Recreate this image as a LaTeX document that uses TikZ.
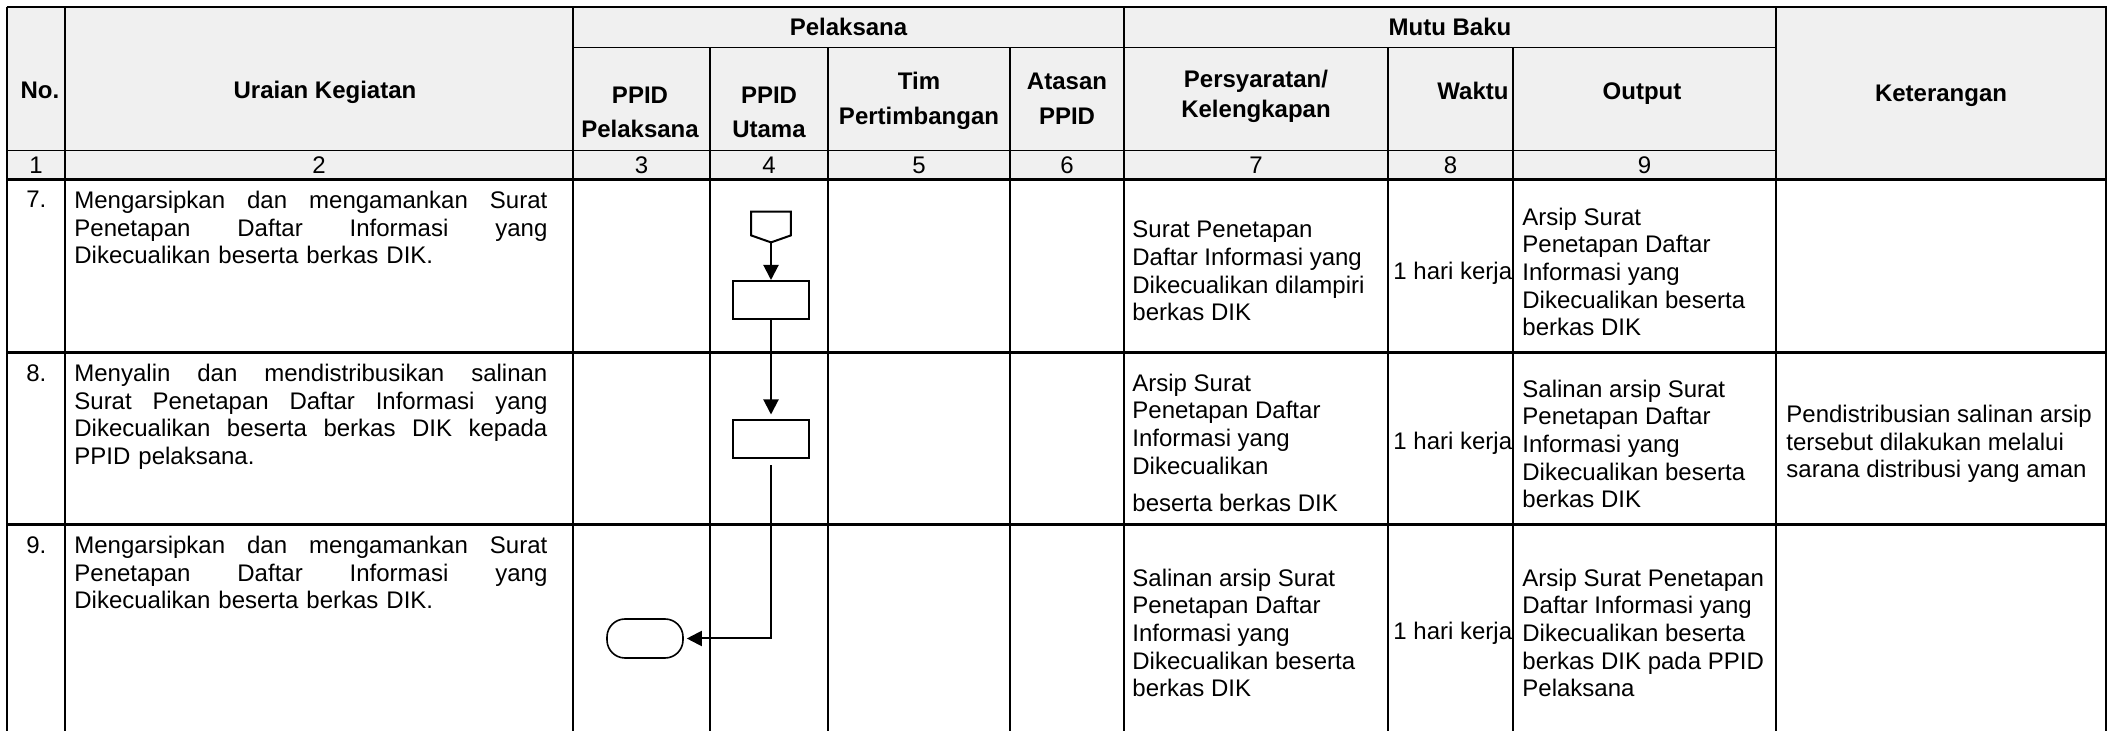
\documentclass[tikz,border=0pt]{standalone}
\usepackage{fontspec}
\setmainfont{Liberation Sans}
\usetikzlibrary{arrows.meta}
\setlength{\parindent}{0pt}
\definecolor{headgray}{RGB}{240,240,240}
\newcommand{\cellfont}{\fontsize{12}{13.8}\selectfont}

\begin{document}
\begin{tikzpicture}[
  x=0.5pt, y=-0.5pt,
  every node/.style={inner sep=0pt, font=\cellfont},
  head/.style={anchor=base, font=\cellfont\bfseries},
  num/.style={anchor=base},
  uraian/.style={anchor=north west, text width=236.5pt, align=left},
  cell/.style={anchor=west, align=left},
  vline/.style={line width=1pt},
  hthin/.style={line width=0.5pt},
  hrow/.style={line width=1.5pt},
  proc/.style={draw, line width=1pt, minimum width=38pt, minimum height=19pt},
  term/.style={draw, line width=0.8pt, rounded corners=9pt, minimum width=38pt, minimum height=19.5pt},
  flow/.style={line width=1pt, -{Triangle[length=7.5pt,width=7.5pt]}},
  ]
  \useasboundingbox (0,0) rectangle (2116,731);
  % header background and grid
  \fill[headgray] (7,7) rectangle (2106,180);
  \foreach \x in {7,65,573,1124,1776,2106}
    \draw[vline] (\x,7) -- (\x,731);
  \foreach \x in {710,828,1010,1388,1513}
    \draw[vline] (\x,48) -- (\x,731);
  \draw[vline] (6.5,7) -- (2106.5,7);
  \draw[hthin] (573,48) -- (1776,48);
  \draw[hthin] (7,151) -- (1776,151);
  \foreach \y in {180,353,525}
    \draw[hrow] (6.5,\y) -- (2106.5,\y);

  % column heads
  \node[head] (hNo) at (40,99) {No.};
  \node[head] (hUraian) at (325,99) {Uraian Kegiatan};
  \node[head] (hPelaksana) at (848.5,36) {Pelaksana};
  \node[head] (hMutu) at (1450,36) {Mutu Baku};
  \node[head] (hKet) at (1941,102) {Keterangan};
  \node[head] (hPel1) at (640,104) {PPID};
  \node[head] (hPel2) at (640,138) {Pelaksana};
  \node[head] (hUtama1) at (769,104) {PPID};
  \node[head] (hUtama2) at (769,138) {Utama};
  \node[head] (hTim1) at (919,90) {Tim};
  \node[head] (hTim2) at (919,125) {Pertimbangan};
  \node[head] (hAtasan1) at (1067,90) {Atasan};
  \node[head] (hAtasan2) at (1067,125) {PPID};
  \node[head] (hSyarat1) at (1256,88) {Persyaratan/};
  \node[head] (hSyarat2) at (1256,118) {Kelengkapan};
  \node[head] (hWaktu) at (1473,100) {Waktu};
  \node[head] (hOutput) at (1642,100) {Output};
  \foreach \n/\x in {1/36,2/319,3/641.5,4/769,5/919,6/1067,7/1256,8/1450.5,9/1644.5}
    \node[num] (c\n) at (\x,174) {\n};

  % step 7
  \node[anchor=north west] (no7) at (26,191) {7.};
  \node[uraian] (ur7) at (74,191) {Mengarsipkan\hfill dan\hfill mengamankan\hfill Surat\\
    Penetapan\hfill Daftar\hfill Informasi\hfill yang\\
    Dikecualikan beserta berkas DIK.};
  \node[cell] (syarat7) at (1132,271) {Surat Penetapan\\Daftar Informasi yang\\Dikecualikan dilampiri\\berkas DIK};
  \node[cell] (waktu7) at (1393,273) {1 hari kerja};
  \node[cell] (out7) at (1522,272) {Arsip Surat\\Penetapan Daftar\\Informasi yang\\Dikecualikan beserta\\berkas DIK};

  % step 8
  \node[anchor=north west] (no8) at (26,364) {8.};
  \node[uraian] (ur8) at (74,364) {Menyalin\hfill dan\hfill mendistribusikan\hfill salinan\\
    Surat\hfill Penetapan\hfill Daftar\hfill Informasi\hfill yang\\
    Dikecualikan\hfill beserta\hfill berkas\hfill DIK\hfill kepada\\
    PPID pelaksana.};
  \node[cell] (syarat8) at (1132,443) {Arsip Surat\\Penetapan Daftar\\Informasi yang\\Dikecualikan\\[5pt]beserta berkas DIK};
  \node[cell] (waktu8) at (1393,443) {1 hari kerja};
  \node[cell] (out8) at (1522,444) {Salinan arsip Surat\\Penetapan Daftar\\Informasi yang\\Dikecualikan beserta\\berkas DIK};
  \node[cell] (ket8) at (1786,444) {Pendistribusian salinan arsip\\tersebut dilakukan melalui\\sarana distribusi yang aman};

  % step 9
  \node[anchor=north west] (no9) at (26,536) {9.};
  \node[uraian] (ur9) at (74,536) {Mengarsipkan\hfill dan\hfill mengamankan\hfill Surat\\
    Penetapan\hfill Daftar\hfill Informasi\hfill yang\\
    Dikecualikan beserta berkas DIK.};
  \node[cell] (syarat9) at (1132,633) {Salinan arsip Surat\\Penetapan Daftar\\Informasi yang\\Dikecualikan beserta\\berkas DIK};
  \node[cell] (waktu9) at (1393,633) {1 hari kerja};
  \node[cell] (out9) at (1522,633) {Arsip Surat Penetapan\\Daftar Informasi yang\\Dikecualikan beserta\\berkas DIK pada PPID\\Pelaksana};

  % flow symbols
  \node[minimum width=19.5pt, minimum height=15pt] (opc7) at (771,227) {};
  \draw[line width=1pt] (opc7.north west) -- (opc7.north east) -- ([yshift=3.5pt]opc7.south east)
    -- (opc7.south) -- ([yshift=3.5pt]opc7.south west) -- cycle;
  \node[proc] (act7) at (771,300) {};
  \node[proc] (act8) at (771,439.5) {};
  \node[term] (end9) at (645,638.5) {};
  \draw[flow] (opc7.south) -- (act7.north);
  \draw[flow, shorten >=2.5pt] (act7.south) -- (act8.north);
  \draw[flow, shorten <=3pt, shorten >=1.5pt] (act8.south) |- (end9.east);
\end{tikzpicture}
\end{document}
